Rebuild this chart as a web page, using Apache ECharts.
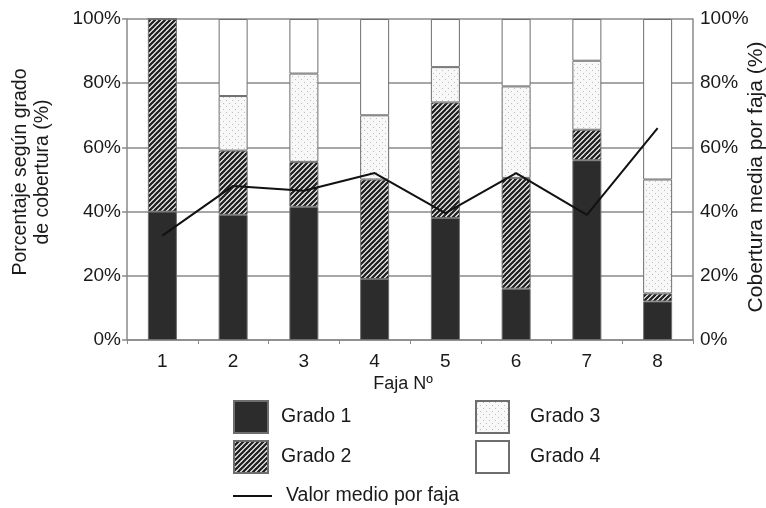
<!DOCTYPE html>
<html>
<head>
<meta charset="utf-8">
<script src="https://cdn.jsdelivr.net/npm/echarts@6/dist/echarts.min.js"></script>
<style>
  html, body { margin: 0; padding: 0; background: #fff; }
  #chart { width: 766px; height: 508px; }
</style>
</head>
<body>
<div id="chart"></div>
<script>
// Strips (fajas) and coverage shares per grade, in percent
const fajas = ['1', '2', '3', '4', '5', '6', '7', '8'];
const grado1 = [40, 39, 41.5, 19, 38, 16, 56, 12];
const grado2 = [60, 20, 14, 31, 36, 34.5, 9.5, 2.5];
const grado3 = [0, 17, 27.5, 20, 11, 28.5, 21.5, 35.5];
const grado4 = [0, 24, 17, 30, 15, 21, 13, 50];
const valorMedio = [32.5, 48, 46.5, 52, 39.5, 52, 39, 66];
const yTicks = [0, 20, 40, 60, 80, 100];

const FONT = '"Liberation Sans", Arial, sans-serif';
const TXT = '#1a1a1a';
const GRID = '#8a8a8a';

// Diagonal hatch fill for "Grado 2"
function hatchPattern() {
  const s = 5;
  const c = document.createElement('canvas');
  c.width = s; c.height = s;
  const g = c.getContext('2d');
  g.fillStyle = '#ffffff';
  g.fillRect(0, 0, s, s);
  g.strokeStyle = '#222222';
  g.lineWidth = 2.3;
  g.beginPath();
  g.moveTo(-1, s + 1); g.lineTo(s + 1, -1);
  g.moveTo(-1, 1); g.lineTo(1, -1);
  g.moveTo(s - 1, s + 1); g.lineTo(s + 1, s - 1);
  g.stroke();
  return { image: c, repeat: 'repeat' };
}

// Sparse dotted fill for "Grado 3"
function dotPattern() {
  const s = 6;
  const c = document.createElement('canvas');
  c.width = s; c.height = s;
  const g = c.getContext('2d');
  g.fillStyle = '#f8f8f8';
  g.fillRect(0, 0, s, s);
  g.fillStyle = '#bdbdbd';
  g.fillRect(1, 1, 1, 1);
  g.fillRect(4, 4, 1, 1);
  return { image: c, repeat: 'repeat' };
}

const barBorder = { borderColor: '#6e6e6e', borderWidth: 1 };

function barSeries(name, data, color) {
  return {
    name: name,
    type: 'bar',
    stack: 'grados',
    barWidth: 29,
    yAxisIndex: 0,
    data: data,
    itemStyle: Object.assign({ color: color }, barBorder),
    emphasis: { disabled: true }
  };
}

const legendText = { fontFamily: FONT, fontSize: 19.5, color: TXT };

const chart = echarts.init(document.getElementById('chart'), null, { renderer: 'canvas' });
chart.setOption({
  animation: false,
  backgroundColor: '#ffffff',
  grid: { left: 127, right: 73, top: 19, bottom: 168, containLabel: false },
  xAxis: {
    type: 'category',
    data: fajas,
    boundaryGap: true,
    axisLine: { show: true, lineStyle: { color: GRID, width: 1.5 } },
    axisTick: { show: true, length: 4, lineStyle: { color: GRID, width: 1 } },
    axisLabel: { margin: 12, fontFamily: FONT, fontSize: 19, color: TXT },
    splitLine: { show: false }
  },
  yAxis: [
    {
      type: 'value',
      min: yTicks[0],
      max: yTicks[yTicks.length - 1],
      interval: yTicks[1] - yTicks[0],
      axisLine: { show: true, lineStyle: { color: GRID, width: 1.5 } },
      axisTick: { show: true, length: 5, lineStyle: { color: GRID, width: 1.5 } },
      axisLabel: { margin: 6, formatter: '{value}%', fontFamily: FONT, fontSize: 19, color: TXT },
      splitLine: { show: true, lineStyle: { color: GRID, width: 1.5 } }
    },
    {
      type: 'value',
      position: 'right',
      min: yTicks[0],
      max: yTicks[yTicks.length - 1],
      interval: yTicks[1] - yTicks[0],
      axisLine: { show: true, lineStyle: { color: GRID, width: 1.5 } },
      axisTick: { show: false },
      axisLabel: { margin: 7, formatter: '{value}%', fontFamily: FONT, fontSize: 19, color: TXT },
      splitLine: { show: false }
    }
  ],
  legend: [
    {
      data: ['Grado 1', 'Grado 2'],
      orient: 'vertical',
      left: 233, top: 400,
      padding: 0,
      itemWidth: 34, itemHeight: 32, itemGap: 6,
      icon: 'rect',
      selectedMode: false,
      textStyle: Object.assign({ padding: [8, 0, 0, 8] }, legendText)
    },
    {
      data: ['Grado 3', 'Grado 4'],
      orient: 'vertical',
      left: 475, top: 400,
      padding: 0,
      itemWidth: 33, itemHeight: 32, itemGap: 6,
      icon: 'rect',
      selectedMode: false,
      textStyle: Object.assign({ padding: [8, 0, 0, 16] }, legendText)
    },
    {
      data: [{ name: 'Valor medio por faja', icon: 'rect', itemStyle: { color: '#111', borderWidth: 0 } }],
      left: 233, top: 486,
      padding: 0,
      itemWidth: 39, itemHeight: 2,
      selectedMode: false,
      textStyle: Object.assign({ padding: [0, 0, 0, 9] }, legendText)
    }
  ],
  graphic: [
    {
      type: 'text', x: 21, y: 172, rotation: Math.PI / 2,
      style: { text: 'Porcentaje según grado', font: '19.5px ' + FONT, fill: TXT, align: 'center', verticalAlign: 'middle' }
    },
    {
      type: 'text', x: 43, y: 172, rotation: Math.PI / 2,
      style: { text: 'de cobertura (%)', font: '19.5px ' + FONT, fill: TXT, align: 'center', verticalAlign: 'middle' }
    },
    {
      type: 'text', x: 756, y: 177, rotation: Math.PI / 2,
      style: { text: 'Cobertura media por faja (%)', font: '21px ' + FONT, fill: TXT, align: 'center', verticalAlign: 'middle' }
    },
    {
      type: 'text', x: 403, y: 384,
      style: { text: 'Faja Nº', font: '18px ' + FONT, fill: TXT, align: 'center', verticalAlign: 'middle' }
    }
  ],
  series: [
    barSeries('Grado 1', grado1, '#2c2c2c'),
    barSeries('Grado 2', grado2, hatchPattern()),
    barSeries('Grado 3', grado3, dotPattern()),
    barSeries('Grado 4', grado4, '#ffffff'),
    {
      name: 'Valor medio por faja',
      type: 'line',
      yAxisIndex: 1,
      data: valorMedio,
      symbol: 'none',
      lineStyle: { color: '#111', width: 2 },
      z: 5,
      emphasis: { disabled: true }
    }
  ]
});
</script>
</body>
</html>
